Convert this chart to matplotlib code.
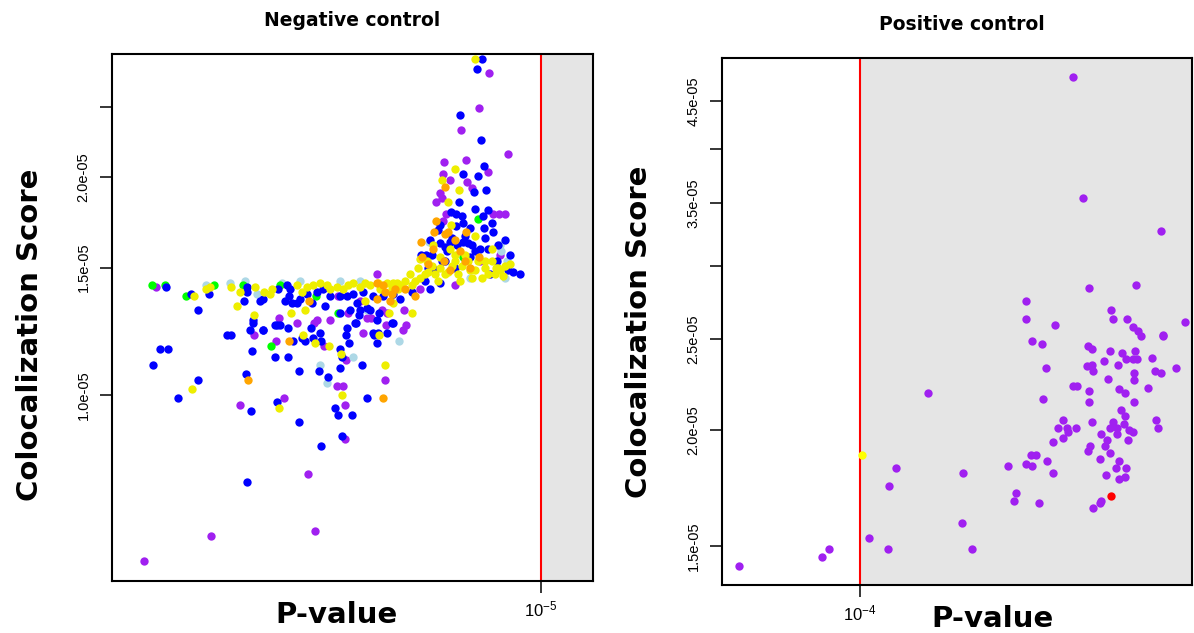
"""
Colocalization score vs P-value: negative and positive control panels.
Values were read off the reference figure (x stored as -log10(P),
y stored in units of 1e-5).
"""
import numpy as np
import matplotlib.pyplot as plt
from matplotlib.ticker import NullLocator

plt.rcParams["font.family"] = ["Liberation Sans", "DejaVu Sans"]
plt.rcParams["mathtext.fontset"] = "custom"
plt.rcParams["mathtext.rm"] = "Liberation Sans"
plt.rcParams["mathtext.it"] = "Liberation Sans:italic"

# ---------------------------------------------------------------------------
# Data: (-log10 P, score / 1e-5)
# ---------------------------------------------------------------------------
neg_purple = [
    (8.85, 1.41), (7.87, 1.21), (8.01, 0.97), (7.57, 0.99), (6.96, 0.87),
    (6.96, 0.97), (6.56, 1.05), (7.04, 1.03), (6.98, 1.03), (6.95, 1.12),
    (7.17, 1.17), (7.65, 1.19), (7.62, 1.28), (7.27, 1.26), (6.78, 1.22),
    (6.70, 1.28), (6.55, 1.25), (6.38, 1.23), (6.35, 1.25), (6.37, 1.31),
    (7.44, 1.26), (7.11, 1.27), (7.24, 1.27), (6.93, 1.30), (7.03, 1.37),
    (6.74, 1.28), (6.59, 1.31), (6.54, 1.30), (6.64, 1.47), (6.01, 1.90),
    (5.99, 1.87), (6.05, 1.85), (5.95, 1.78), (5.48, 1.78), (5.42, 1.78),
    (5.36, 1.78), (5.98, 1.74), (5.80, 2.32), (5.97, 2.10), (5.75, 2.11),
    (5.53, 2.03), (5.98, 2.02), (5.91, 1.98), (5.74, 1.97), (5.69, 1.93),
    (5.52, 2.78), (5.62, 2.49), (5.33, 2.15), (7.33, 0.78), (8.30, 0.64),
    (7.26, 0.65), (8.97, 0.59), (6.81, 1.35), (6.21, 1.40), (5.86, 1.42),
    (5.61, 1.53), (5.41, 1.56),
]
neg_lightblue = [
    (8.35, 1.42), (8.11, 1.43), (7.84, 1.38), (6.88, 1.13), (7.14, 1.04),
    (7.21, 1.10), (6.42, 1.19), (7.59, 1.43), (6.74, 1.31), (6.12, 1.63),
    (5.41, 1.61), (5.40, 1.58), (5.34, 1.53), (5.36, 1.45), (7.96, 1.44),
    (7.41, 1.44), (7.01, 1.44), (6.81, 1.44), (5.71, 1.45),
]
neg_green = [
    (8.89, 1.42), (8.76, 1.42), (8.55, 1.37), (8.27, 1.42), (7.98, 1.42),
    (7.70, 1.17), (7.61, 1.42), (7.25, 1.37), (7.03, 1.30), (5.63, 1.75),
    (5.78, 1.55),
]
neg_blue = [
    (8.75, 1.41), (8.50, 1.38), (8.43, 1.31), (8.32, 1.38), (7.94, 1.41),
    (7.97, 1.35), (7.94, 1.39), (7.88, 1.27), (7.91, 1.23), (7.78, 1.23),
    (8.14, 1.21), (8.10, 1.21), (8.81, 1.16), (8.73, 1.16), (8.88, 1.10),
    (8.43, 1.05), (8.63, 0.99), (7.89, 1.15), (7.95, 1.07), (7.90, 0.95),
    (7.64, 0.98), (7.42, 0.92), (7.20, 0.85), (6.99, 0.88), (7.06, 0.96),
    (7.03, 0.94), (6.89, 0.94), (6.74, 0.99), (6.79, 1.10), (7.13, 1.06),
    (7.22, 1.08), (7.42, 1.08), (7.01, 1.09), (7.01, 1.16), (6.99, 1.13),
    (6.92, 1.18), (6.95, 1.21), (7.20, 1.19), (7.36, 1.19), (7.48, 1.19),
    (7.66, 1.13), (7.53, 1.13), (7.66, 1.25), (7.61, 1.25), (7.30, 1.24),
    (6.67, 1.21), (6.64, 1.18), (6.85, 1.26), (6.82, 1.29), (6.49, 1.26),
    (6.62, 1.30), (7.53, 1.24), (7.64, 1.25), (7.88, 1.26), (7.78, 1.23),
    (7.63, 1.40), (7.54, 1.42), (7.51, 1.40), (7.52, 1.37), (7.49, 1.34),
    (7.44, 1.34), (7.34, 1.38), (7.24, 1.39), (7.18, 1.40), (7.29, 1.34),
    (7.78, 1.36), (7.11, 1.37), (7.01, 1.37), (6.94, 1.37), (6.88, 1.38),
    (6.78, 1.39), (6.68, 1.37), (6.58, 1.37), (6.48, 1.38), (6.84, 1.34),
    (6.74, 1.32), (7.01, 1.30), (6.91, 1.31), (6.81, 1.31), (6.71, 1.31),
    (6.48, 1.26), (6.64, 1.27), (6.94, 1.24), (6.86, 1.26), (6.68, 1.22),
    (6.63, 1.22), (6.54, 1.22), (7.39, 1.20), (7.28, 1.20), (7.21, 1.22),
    (7.81, 1.35), (7.56, 1.35), (7.16, 1.33), (7.41, 1.36),
    (5.67, 1.91), (5.55, 1.92), (5.82, 1.85), (5.53, 1.80), (5.58, 1.77),
    (5.90, 1.79), (5.85, 1.78), (5.49, 1.73), (5.57, 1.70), (5.85, 1.71),
    (5.78, 1.73), (5.56, 1.65), (5.71, 1.70), (6.01, 1.62), (5.91, 1.63),
    (5.78, 1.63), (5.73, 1.62), (5.36, 1.64), (5.61, 1.59), (5.53, 1.59),
    (5.94, 1.58), (5.31, 1.56), (6.20, 1.56), (6.15, 1.56), (6.09, 1.56),
    (5.44, 1.53), (5.33, 1.49), (5.28, 1.48), (5.21, 1.47), (5.51, 1.47),
    (5.59, 2.91), (5.64, 2.82), (5.81, 2.44), (5.60, 2.25), (5.57, 2.07),
    (5.78, 2.02), (5.63, 2.01), (7.94, 0.76),
    (6.41, 1.36), (6.29, 1.39), (6.16, 1.44), (6.06, 1.49), (5.96, 1.53),
    (5.86, 1.50), (5.71, 1.55), (6.11, 1.40), (6.01, 1.43), (6.03, 1.69),
    (5.89, 1.65), (5.84, 1.61), (5.66, 1.58), (5.99, 1.53),
    (6.11, 1.64), (5.96, 1.60), (5.76, 1.66), (5.69, 1.61), (6.01, 1.72),
    (5.79, 1.77), (5.48, 1.68), (5.43, 1.61), (5.66, 1.81), (6.13, 1.50),
]
neg_yellow = [
    (8.47, 1.37), (8.35, 1.40), (8.31, 1.41), (8.10, 1.41), (8.04, 1.33),
    (8.01, 1.39), (7.86, 1.41), (7.87, 1.29), (8.49, 1.02), (7.62, 0.96),
    (6.99, 1.00), (6.56, 1.10), (7.00, 1.14), (7.12, 1.17), (7.26, 1.18),
    (7.38, 1.21), (7.50, 1.30), (7.36, 1.31), (6.62, 1.21), (6.29, 1.30),
    (6.52, 1.30), (7.77, 1.39), (7.71, 1.38), (7.69, 1.40), (7.44, 1.42),
    (7.34, 1.41), (7.28, 1.42), (7.39, 1.39), (7.21, 1.43), (7.14, 1.42),
    (7.11, 1.40), (7.04, 1.41), (6.98, 1.40), (6.93, 1.42), (6.88, 1.43),
    (6.81, 1.41), (6.76, 1.43), (6.71, 1.42), (6.63, 1.43), (6.54, 1.43),
    (6.48, 1.43), (6.44, 1.43), (6.76, 1.35), (6.48, 1.34),
    (5.99, 1.98), (5.82, 1.92), (5.93, 1.85), (5.90, 1.72), (5.86, 2.05),
    (5.66, 1.66), (6.08, 1.61), (5.49, 1.59), (5.43, 1.50), (5.46, 1.47),
    (5.66, 2.91),
    (6.36, 1.44), (6.29, 1.42), (6.21, 1.45), (6.13, 1.48), (6.06, 1.47),
    (6.01, 1.50), (5.93, 1.48), (5.86, 1.53), (5.79, 1.51), (5.71, 1.49),
    (5.63, 1.53), (5.56, 1.50), (5.49, 1.53), (5.41, 1.49), (5.36, 1.51),
    (6.01, 1.55), (5.76, 1.56), (6.23, 1.50), (6.43, 1.40), (6.61, 1.40),
    (6.31, 1.47), (6.14, 1.53), (5.91, 1.59), (5.59, 1.45),
    (6.26, 1.44), (6.16, 1.47), (6.09, 1.51), (5.96, 1.47), (5.89, 1.51),
    (5.83, 1.47), (5.73, 1.53), (5.66, 1.49), (5.53, 1.47), (5.45, 1.50),
    (5.38, 1.46), (5.31, 1.52), (6.03, 1.44), (5.81, 1.44), (5.69, 1.45),
    (5.56, 1.53), (6.21, 1.54), (5.86, 1.56), (6.41, 1.42), (6.49, 1.40),
]
neg_orange = [
    (7.93, 1.05), (6.58, 0.99), (7.52, 1.19), (7.32, 1.35), (6.64, 1.43),
    (6.58, 1.42), (6.56, 1.39), (6.49, 1.38), (6.64, 1.36), (5.96, 1.94),
    (6.05, 1.74), (6.07, 1.68), (5.96, 1.67), (5.93, 1.68), (5.75, 1.68),
    (6.20, 1.63), (6.08, 1.59), (5.81, 1.58), (6.19, 1.55), (5.97, 1.53),
    (5.91, 1.49), (5.76, 1.53), (5.62, 1.55), (6.46, 1.40), (6.36, 1.40),
    (6.26, 1.37), (6.51, 1.35), (5.86, 1.64), (6.13, 1.52), (5.71, 1.50),
]

pos_purple = [
    (1.87, 4.78), (1.77, 3.54), (0.99, 3.27), (1.71, 2.84), (1.24, 2.86),
    (2.34, 2.75), (2.34, 2.63), (2.05, 2.59), (1.49, 2.69), (1.47, 2.63),
    (1.33, 2.63), (1.27, 2.58), (1.22, 2.55), (0.75, 2.61), (0.97, 2.52),
    (5.21, 1.43), (4.38, 1.46), (4.31, 1.49), (3.91, 1.53), (3.72, 1.49),
    (3.71, 1.74), (3.64, 1.82), (3.32, 2.19), (2.97, 1.80), (2.98, 1.59),
    (2.88, 1.49), (2.52, 1.83), (2.44, 1.71), (2.46, 1.68), (2.21, 1.67),
    (2.34, 1.84), (2.28, 1.83), (2.29, 1.88), (2.24, 1.88), (2.13, 1.85),
    (2.07, 1.80), (2.07, 1.94), (1.97, 1.96), (2.02, 2.01), (1.93, 2.01),
    (1.92, 1.99), (1.84, 2.01), (1.97, 2.05), (2.17, 2.16), (1.87, 2.23),
    (1.83, 2.23), (2.28, 2.49), (2.18, 2.47), (2.14, 2.33), (1.72, 2.46),
    (1.68, 2.44), (1.73, 2.34), (1.68, 2.35), (1.67, 2.31), (1.56, 2.37),
    (1.50, 2.43), (1.42, 2.35), (1.52, 2.27), (1.38, 2.42), (1.34, 2.38),
    (1.27, 2.38), (1.23, 2.38), (1.25, 2.43), (1.26, 2.30), (1.26, 2.26),
    (1.08, 2.39), (1.05, 2.31), (0.99, 2.30), (0.84, 2.33), (1.12, 2.22),
    (0.97, 2.53), (1.19, 2.52), (1.71, 2.20), (1.71, 2.14), (1.41, 2.21),
    (1.35, 2.19), (1.26, 2.14), (1.68, 2.04), (1.39, 2.10), (1.35, 2.07),
    (1.47, 2.04), (1.50, 2.01), (1.43, 2.01), (1.43, 1.98), (1.36, 2.03),
    (1.31, 2.00), (1.27, 1.99), (1.32, 1.95), (1.04, 2.05), (1.02, 2.01),
    (1.59, 1.98), (1.53, 1.95), (1.55, 1.92), (1.70, 1.92), (1.72, 1.90),
    (1.50, 1.89), (1.60, 1.86), (1.41, 1.85), (1.44, 1.82), (1.34, 1.82),
    (1.54, 1.79), (1.35, 1.78), (1.41, 1.77), (1.59, 1.68), (1.60, 1.67),
    (1.67, 1.65),
]
pos_yellow = [(3.98, 1.88)]
pos_red = [(1.49, 1.70)]

neg_layers = [
    (neg_purple, "#A020F0"),
    (neg_lightblue, "#ADD8E6"),
    (neg_green, "#00FF00"),
    (neg_blue, "#0000FF"),
    (neg_yellow, "#EEEE00"),
    (neg_orange, "#FFA500"),
]
pos_layers = [
    (pos_purple, "#A020F0"),
    (pos_yellow, "#FFFF00"),
    (pos_red, "#FF0000"),
]

neg_yticks = [1.0, 1.5, 2.0, 2.5]
neg_ylabels = ["1.0e-05", "1.5e-05", "2.0e-05", ""]
pos_yticks = [1.5, 2.0, 2.5, 3.0, 3.5, 4.0, 4.5]
pos_ylabels = ["1.5e-05", "2.0e-05", "2.5e-05", "", "3.5e-05", "", "4.5e-05"]


def draw_panel(ax, layers, xlim, ylim, thresh, xtick_label, yticks, ylabels):
    ax.set_xscale("log")
    ax.set_yscale("log")
    ax.set_xlim(10.0 ** -xlim[0], 10.0 ** -xlim[1])
    ax.set_ylim(ylim[0] * 1e-5, ylim[1] * 1e-5)
    ax.axvspan(thresh, 10.0 ** -xlim[1], color="#E5E5E5", lw=0, zorder=0)
    ax.axvline(thresh, color="red", lw=1.5, zorder=1)
    for pts, col in layers:
        arr = np.array(pts)
        ax.scatter(10.0 ** -arr[:, 0], arr[:, 1] * 1e-5, s=36, c=col,
                   linewidths=0, zorder=3)
    ax.xaxis.set_minor_locator(NullLocator())
    ax.yaxis.set_minor_locator(NullLocator())
    ax.set_xticks([thresh], [xtick_label])
    ax.set_yticks([v * 1e-5 for v in yticks], ylabels)
    ax.tick_params(direction="out", length=8.5, width=1.1)
    ax.tick_params(axis="y", pad=7, labelsize=10.5)
    ax.tick_params(axis="x", pad=5, labelsize=12)
    plt.setp(ax.get_yticklabels(), rotation=90, va="center")
    for sp in ax.spines.values():
        sp.set_linewidth(1.5)


fig = plt.figure(figsize=(11.94, 6.33), dpi=100)

ax1 = fig.add_axes([112 / 1194, 1 - 580.7 / 633, 481 / 1194, 526.7 / 633])
draw_panel(ax1, neg_layers, (9.29, 4.48), (0.555, 2.957), 1e-5,
           r"$10^{-5}$", neg_yticks, neg_ylabels)

ax2 = fig.add_axes([722 / 1194, 1 - 585 / 633, 470 / 1194, 527.3 / 633])
draw_panel(ax2, pos_layers, (5.38, 0.68), (1.364, 5.01), 1e-4,
           r"$10^{-4}$", pos_yticks, pos_ylabels)

bold = dict(family="DejaVu Sans", fontweight="bold")
fig.text(352 / 1194, 1 - 20 / 633, "Negative control", ha="center",
         va="center", fontsize=13.5, **bold)
fig.text(962 / 1194, 1 - 25 / 633, "Positive control", ha="center",
         va="center", fontsize=13.5, **bold)
fig.text(337 / 1194, 1 - 615 / 633, "P-value", ha="center", va="center",
         fontsize=21, **bold)
fig.text(993 / 1194, 1 - 619 / 633, "P-value", ha="center", va="center",
         fontsize=21, **bold)
fig.text(30 / 1194, 1 - 335 / 633, "Colocalization Score", ha="center",
         va="center", rotation=90, fontsize=21, **bold)
fig.text(639 / 1194, 1 - 332 / 633, "Colocalization Score", ha="center",
         va="center", rotation=90, fontsize=21, **bold)

fig.savefig("out.png", dpi=100)
